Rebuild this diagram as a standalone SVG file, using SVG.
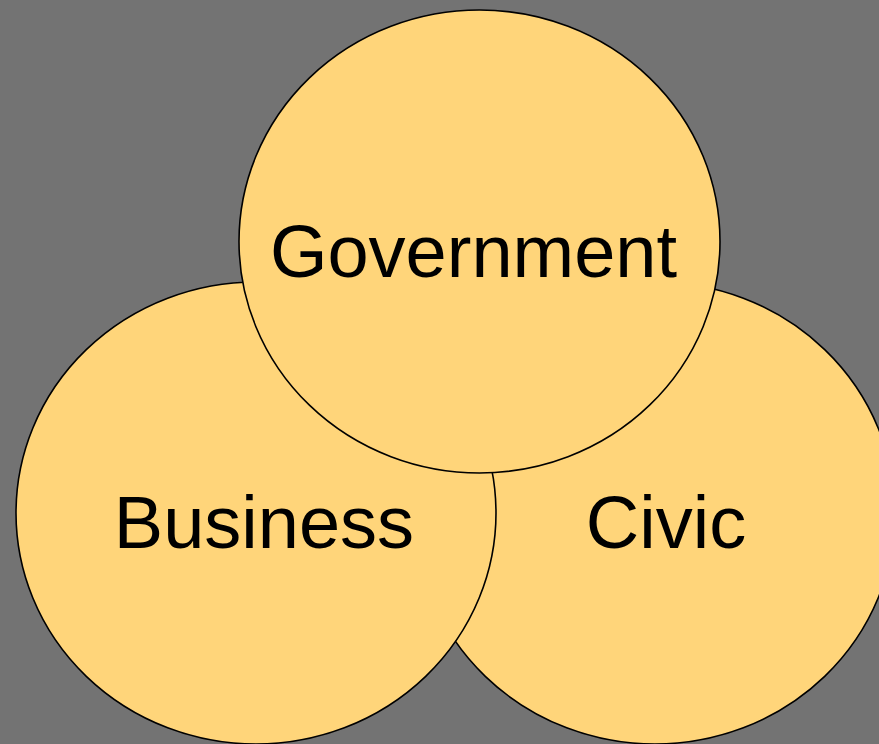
<svg xmlns="http://www.w3.org/2000/svg" width="879" height="744" viewBox="0 0 879 744">
<style>
.c{fill:#FFD57A;stroke:#000;stroke-width:1.6}
.t{font-family:"Liberation Sans",Arial,sans-serif;font-size:74px;fill:#000;text-anchor:middle}
</style>
<rect width="879" height="744" fill="#737373"/>
<g id="civic"><ellipse class="c" cx="655" cy="513" rx="240" ry="231"/><text class="t" x="666" y="548">Civic</text></g>
<g id="business"><ellipse class="c" cx="256" cy="513" rx="240" ry="231"/><text class="t" x="264" y="548">Business</text></g>
<g id="government"><ellipse class="c" cx="479.5" cy="241.5" rx="240.5" ry="231.5"/><text class="t" x="473.5" y="277">Government</text></g>
<g id="connectors"/>
</svg>
